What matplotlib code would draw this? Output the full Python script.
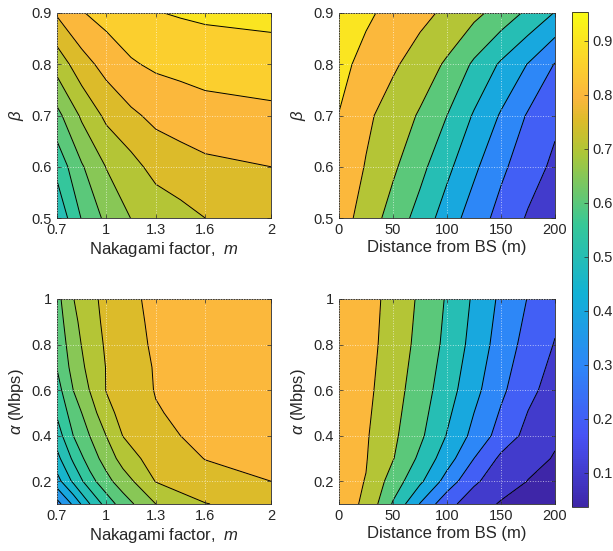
import numpy as np
import matplotlib
matplotlib.use("Agg")
import matplotlib.pyplot as plt
from matplotlib.colors import LinearSegmentedColormap, Normalize
from matplotlib.cm import ScalarMappable

plt.rcParams['font.family'] = ['Liberation Sans', 'DejaVu Sans']
plt.rcParams['mathtext.fontset'] = 'custom'
plt.rcParams['mathtext.rm'] = 'Liberation Sans'
plt.rcParams['mathtext.it'] = 'Liberation Sans:italic'

# ---- data ----
# top left: Nakagami m vs beta
m_tl = [0.7, 0.85, 1.0, 1.15, 1.3, 1.45, 1.6, 2.0]
beta_tl = [0.5, 0.6, 0.7, 0.8, 0.9]
z_tl = [[0.510, 0.603, 0.662, 0.701, 0.717, 0.734, 0.750, 0.775],
        [0.565, 0.645, 0.702, 0.733, 0.767, 0.779, 0.789, 0.800],
        [0.635, 0.708, 0.761, 0.791, 0.812, 0.822, 0.832, 0.839],
        [0.720, 0.780, 0.818, 0.845, 0.858, 0.864, 0.869, 0.877],
        [0.806, 0.847, 0.868, 0.883, 0.898, 0.904, 0.909, 0.914]]

# top right: distance vs beta
d_tr = [0, 25, 50, 75, 100, 125, 150, 175, 200]
beta_tr = [0.5, 0.6, 0.7, 0.8, 0.9]
z_tr = [[0.850, 0.755, 0.661, 0.562, 0.452, 0.352, 0.266, 0.190, 0.115],
        [0.872, 0.794, 0.716, 0.629, 0.524, 0.419, 0.320, 0.243, 0.180],
        [0.898, 0.820, 0.754, 0.690, 0.600, 0.490, 0.390, 0.290, 0.220],
        [0.927, 0.871, 0.815, 0.754, 0.686, 0.584, 0.486, 0.396, 0.295],
        [0.953, 0.916, 0.872, 0.828, 0.780, 0.726, 0.660, 0.580, 0.495]]

# bottom left: Nakagami m vs alpha
m_bl = [0.7, 0.8, 0.9, 1.0, 1.1, 1.3, 1.6, 2.0]
alpha_bl = [0.1, 0.2, 0.3, 0.4, 0.5, 0.6, 0.7, 0.8, 0.9, 1.0]
z_bl = [[0.330, 0.410, 0.500, 0.570, 0.625, 0.700, 0.748, 0.775],
        [0.430, 0.510, 0.580, 0.635, 0.675, 0.752, 0.785, 0.800],
        [0.485, 0.560, 0.625, 0.670, 0.720, 0.775, 0.801, 0.810],
        [0.525, 0.601, 0.651, 0.701, 0.751, 0.790, 0.810, 0.820],
        [0.557, 0.625, 0.675, 0.735, 0.765, 0.797, 0.815, 0.825],
        [0.580, 0.651, 0.702, 0.752, 0.773, 0.802, 0.818, 0.828],
        [0.602, 0.668, 0.715, 0.752, 0.777, 0.803, 0.820, 0.830],
        [0.615, 0.678, 0.725, 0.756, 0.781, 0.806, 0.822, 0.832],
        [0.625, 0.688, 0.732, 0.760, 0.784, 0.808, 0.824, 0.834],
        [0.634, 0.699, 0.737, 0.763, 0.787, 0.810, 0.826, 0.836]]

# bottom right: distance vs alpha
d_br = [0, 25, 50, 75, 100, 125, 150, 175, 200]
alpha_br = [0.1, 0.2, 0.3, 0.4, 0.6, 0.8, 1.0]
z_br = [[0.840, 0.785, 0.590, 0.395, 0.230, 0.150, 0.090, 0.060, 0.037],
        [0.835, 0.797, 0.655, 0.520, 0.360, 0.215, 0.150, 0.098, 0.070],
        [0.845, 0.805, 0.705, 0.580, 0.445, 0.300, 0.180, 0.125, 0.095],
        [0.850, 0.810, 0.720, 0.620, 0.495, 0.370, 0.260, 0.170, 0.110],
        [0.855, 0.825, 0.740, 0.650, 0.545, 0.430, 0.320, 0.225, 0.160],
        [0.860, 0.835, 0.757, 0.672, 0.575, 0.465, 0.355, 0.265, 0.195],
        [0.860, 0.840, 0.767, 0.685, 0.590, 0.485, 0.380, 0.296, 0.230]]

lev_fine = [0.5, 0.55, 0.6, 0.65, 0.7, 0.75, 0.8, 0.85, 0.9, 0.95]
lev_fine_bl = [0.3, 0.35, 0.4, 0.45, 0.5, 0.55, 0.6, 0.65, 0.7, 0.75, 0.8, 0.85]
lev_coarse = [0.0, 0.1, 0.2, 0.3, 0.4, 0.5, 0.6, 0.7, 0.8, 0.9, 1.0]

# parula-like colormap
parula = LinearSegmentedColormap.from_list("parula", [
    (0.0, (0.2422, 0.1504, 0.6603)),
    (1/7, (0.2810, 0.3228, 0.9579)),
    (2/7, (0.1786, 0.5289, 0.9682)),
    (3/7, (0.0689, 0.6948, 0.8394)),
    (4/7, (0.2161, 0.7843, 0.5923)),
    (5/7, (0.6720, 0.7793, 0.2227)),
    (0.78, (0.8600, 0.7350, 0.1650)),
    (0.83, (0.9850, 0.7150, 0.2400)),
    (0.88, (0.9850, 0.7950, 0.1900)),
    (1.0, (0.9769, 0.9839, 0.0805))])
norm = Normalize(vmin=0.037, vmax=0.953)

fig = plt.figure(figsize=(6.13, 5.51), dpi=100)
W, H = 613.0, 551.0
pos = {
    'tl': [57 / W, 1 - 218 / H, 214 / W, 205 / H],
    'tr': [339 / W, 1 - 218 / H, 216 / W, 205 / H],
    'bl': [57 / W, 1 - 504 / H, 214 / W, 205 / H],
    'br': [339 / W, 1 - 504 / H, 216 / W, 205 / H],
}


def panel(key, x, y, z, levels, xticks, xticklabels, yticks, yticklabels, xlabel, ylabel):
    ax = fig.add_axes(pos[key])
    X, Y = np.meshgrid(x, y)
    Z = np.array(z)
    # MATLAB style: each band takes the colour of its lower level
    band_colors = [parula(norm(v)) for v in levels[:-1]]
    ax.contourf(X, Y, Z, levels=levels, colors=band_colors)
    ax.contour(X, Y, Z, levels=levels, colors='k', linewidths=0.7)
    ax.set_xlim(x[0], x[-1])
    ax.set_ylim(y[0], y[-1])
    ax.set_xticks(xticks)
    ax.set_xticklabels(xticklabels)
    ax.set_yticks(yticks)
    ax.set_yticklabels(yticklabels)
    ax.grid(True, color='white', linestyle=':', linewidth=0.7, alpha=0.6)
    ax.set_axisbelow(False)
    ax.tick_params(direction='in', top=True, right=True, length=3,
                   width=0.5, labelsize=10.5, color='#262626', labelcolor='#262626')
    for s in ax.spines.values():
        s.set_linewidth(0.6)
        s.set_color('#262626')
    ax.set_xlabel(xlabel, fontsize=12, color='#262626', labelpad=2)
    ax.set_ylabel(ylabel, fontsize=12, color='#262626', labelpad=4)
    return ax


m_ticks = [0.7, 1.0, 1.3, 1.6, 2.0]
m_labels = ['0.7', '1', '1.3', '1.6', '2']
d_ticks = [0, 50, 100, 150, 200]
d_labels = ['0', '50', '100', '150', '200']
b_ticks = [0.5, 0.6, 0.7, 0.8, 0.9]
b_labels = ['0.5', '0.6', '0.7', '0.8', '0.9']
a_ticks = [0.2, 0.4, 0.6, 0.8, 1.0]
a_labels = ['0.2', '0.4', '0.6', '0.8', '1']

panel('tl', m_tl, beta_tl, z_tl, lev_fine, m_ticks, m_labels, b_ticks, b_labels,
      'Nakagami factor,  $m$', r'$\beta$')
panel('tr', d_tr, beta_tr, z_tr, lev_coarse, d_ticks, d_labels, b_ticks, b_labels,
      'Distance from BS (m)', r'$\beta$')
panel('bl', m_bl, alpha_bl, z_bl, lev_fine_bl, m_ticks, m_labels, a_ticks, a_labels,
      'Nakagami factor,  $m$', r'$\alpha$ (Mbps)')
panel('br', d_br, alpha_br, z_br, lev_coarse, d_ticks, d_labels, a_ticks, a_labels,
      'Distance from BS (m)', r'$\alpha$ (Mbps)')

cax = fig.add_axes([572 / W, 1 - 507 / H, 16 / W, 495 / H])
sm = ScalarMappable(norm=norm, cmap=parula)
cb = fig.colorbar(sm, cax=cax, ticks=[0.1, 0.2, 0.3, 0.4, 0.5, 0.6, 0.7, 0.8, 0.9])
cb.ax.tick_params(direction='in', length=3, width=0.5, labelsize=10.5,
                  color='#262626', labelcolor='#262626')
cb.outline.set_linewidth(0.6)
cb.outline.set_edgecolor('#262626')

fig.savefig('out.png', dpi=100)
